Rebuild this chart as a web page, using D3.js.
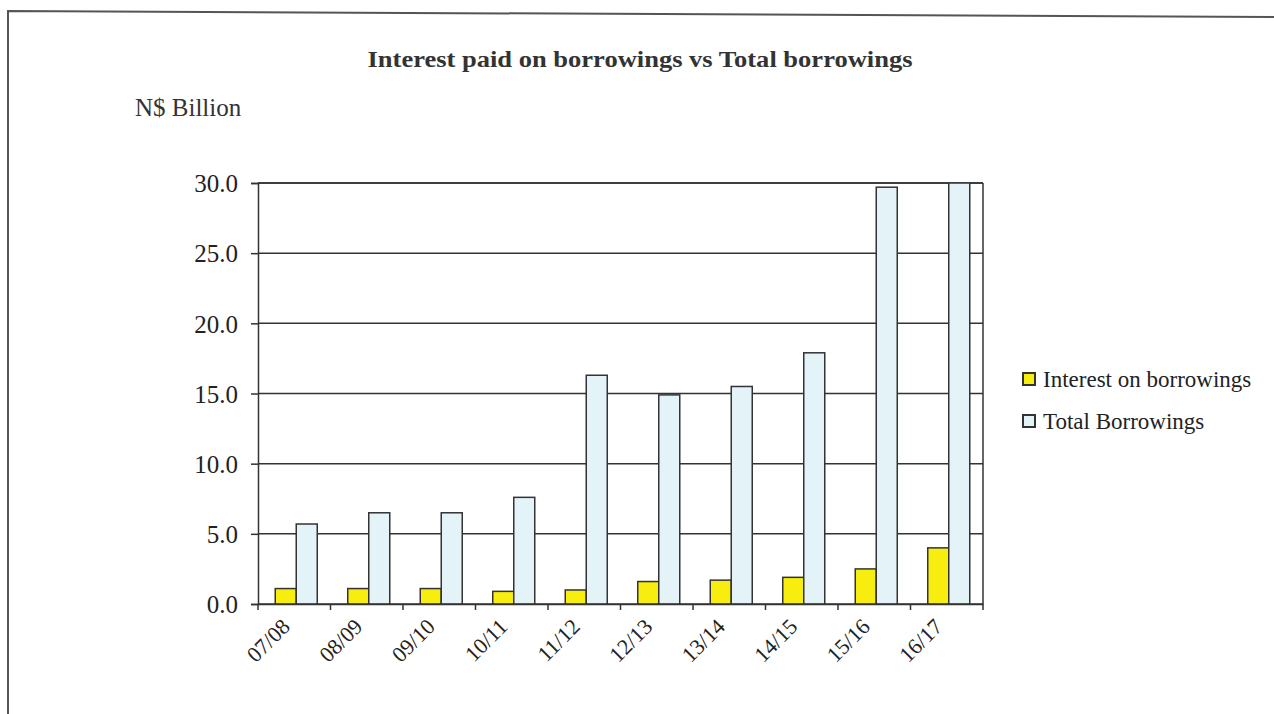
<!DOCTYPE html>
<html>
  <head>
    <title>Interest paid on borrowings vs Total borrowings</title>
    <script src="https://d3js.org/d3.v7.min.js"></script>
  </head>
  <style>
    body {
      margin: 0;
      background-color: #fff;
      font-family: 'Liberation Serif', 'Times New Roman', serif;
    }
  </style>
  <body>
    <svg></svg>
    <script>

      var categories = ['07/08', '08/09', '09/10', '10/11', '11/12', '12/13', '13/14', '14/15', '15/16', '16/17'];
      var interest = [1.1, 1.1, 1.1, 0.9, 1.0, 1.6, 1.7, 1.9, 2.5, 4.0];
      var totalBorrowings = [5.7, 6.5, 6.5, 7.6, 16.3, 14.9, 15.5, 17.9, 29.7, 33.0];
      var seriesNames = ['Interest on borrowings', 'Total Borrowings'];
      var yTicks = [0, 5, 10, 15, 20, 25, 30];

      var width = 1274;
      var height = 714;
      var margin = {left: 258, right: 291, top: 183};
      var plotW = width - margin.left - margin.right;
      var plotH = 421;
      var colors = ['#f7ee10', '#e4f3f8'];
      var stroke = '#333';

      var svg = d3.select('svg')
        .attr('width', width)
        .attr('height', height);

      // scanned page frame (slightly skewed)
      svg.append('path')
        .attr('d', 'M8,714 L8,11 L1274,17')
        .attr('fill', 'none')
        .attr('stroke', '#555')
        .attr('stroke-width', 2);

      svg.append('text')
        .attr('x', 640)
        .attr('y', 67)
        .attr('text-anchor', 'middle')
        .style('font-size', '24px')
        .style('font-weight', 'bold')
        .style('fill', '#333')
        .attr('textLength', 545)
        .attr('lengthAdjust', 'spacingAndGlyphs')
        .text('Interest paid on borrowings  vs  Total  borrowings');

      svg.append('text')
        .attr('x', 135)
        .attr('y', 116)
        .style('font-size', '25px')
        .style('fill', '#333')
        .text('N$ Billion');

      var g = svg.append('g')
        .attr('transform', 'translate(' + margin.left + ',' + margin.top + ')');

      var x = d3.scaleBand()
        .domain(categories)
        .range([0, plotW]);

      var x1 = d3.scaleBand()
        .domain([0, 1])
        .range([0, 42]);

      var y = d3.scaleLinear()
        .domain([0, 30])
        .range([plotH, 0]);

      // grid lines
      g.append('g')
        .selectAll('line')
        .data(yTicks)
        .enter().append('line')
        .attr('x1', 0)
        .attr('x2', plotW)
        .attr('y1', function (d) { return y(d); })
        .attr('y2', function (d) { return y(d); })
        .attr('stroke', stroke)
        .attr('stroke-width', 1.5);

      g.append('defs').append('clipPath')
        .attr('id', 'plot-clip')
        .append('rect')
        .attr('x', 0)
        .attr('y', 0)
        .attr('width', plotW)
        .attr('height', y(0));

      var rows = categories.map(function (c, i) {
        return {cat: c, values: [interest[i], totalBorrowings[i]]};
      });

      var groups = g.append('g')
        .attr('clip-path', 'url(#plot-clip)')
        .selectAll('g')
        .data(rows)
        .enter().append('g')
        .attr('transform', function (d) {
          return 'translate(' + (x(d.cat) + x.bandwidth() / 2 - 21 + 2) + ',0)';
        });

      groups.selectAll('rect')
        .data(function (d) { return d.values; })
        .enter().append('rect')
        .attr('x', function (d, i) { return x1(i); })
        .attr('width', x1.bandwidth())
        .attr('y', function (d) { return y(d); })
        .attr('height', function (d) { return y(0) - y(d); })
        .attr('fill', function (d, i) { return colors[i]; })
        .attr('stroke', stroke)
        .attr('stroke-width', 1.5);

      // top grid line and right border drawn over the clipped bar
      g.append('line')
        .attr('x1', 0)
        .attr('x2', plotW)
        .attr('y1', 0)
        .attr('y2', 0)
        .attr('stroke', stroke)
        .attr('stroke-width', 1.5);

      g.append('line')
        .attr('x1', plotW)
        .attr('x2', plotW)
        .attr('y1', 0)
        .attr('y2', y(0))
        .attr('stroke', stroke)
        .attr('stroke-width', 1.5);

      var yAxis = g.append('g')
        .call(d3.axisLeft(y).tickValues(yTicks).tickSize(7).tickPadding(13)
          .tickFormat(d3.format('.1f')));
      yAxis.select('.domain').attr('stroke', stroke).attr('stroke-width', 1.5);
      yAxis.selectAll('.tick line').attr('stroke', stroke).attr('stroke-width', 1.5);
      yAxis.selectAll('.tick text')
        .style('font-family', "'Liberation Serif', serif")
        .style('font-size', '25px')
        .style('fill', '#222')
        .attr('dy', '0.35em');

      var xAxis = g.append('g')
        .attr('transform', 'translate(0,' + y(0) + ')')
        .call(d3.axisBottom(x).tickSize(0).tickSizeOuter(0).tickPadding(0));
      xAxis.select('.domain').attr('stroke', stroke).attr('stroke-width', 1.5);

      // ticks between categories
      xAxis.append('g')
        .selectAll('line')
        .data(d3.range(categories.length + 1))
        .enter().append('line')
        .attr('x1', function (d) { return d * x.step(); })
        .attr('x2', function (d) { return d * x.step(); })
        .attr('y1', 0)
        .attr('y2', 6)
        .attr('stroke', stroke)
        .attr('stroke-width', 1.5);

      xAxis.selectAll('.tick text')
        .style('font-family', "'Liberation Serif', serif")
        .style('font-size', '22px')
        .style('fill', '#222')
        .attr('text-anchor', 'end')
        .attr('dy', 0)
        .attr('transform', 'translate(-3,24) rotate(-45)');

      // legend
      var legend = svg.append('g')
        .attr('transform', 'translate(1023,371)');

      var item = legend.selectAll('g')
        .data(seriesNames)
        .enter().append('g')
        .attr('transform', function (d, i) { return 'translate(0,' + i * 42 + ')'; });

      item.append('rect')
        .attr('width', 12)
        .attr('height', 12)
        .attr('y', 2)
        .attr('fill', function (d, i) { return colors[i]; })
        .attr('stroke', stroke)
        .attr('stroke-width', 2);

      item.append('text')
        .attr('x', 20)
        .attr('y', 16)
        .style('font-size', '23px')
        .style('fill', '#222')
        .text(function (d) { return d; });

    </script>
  </body>
</html>
